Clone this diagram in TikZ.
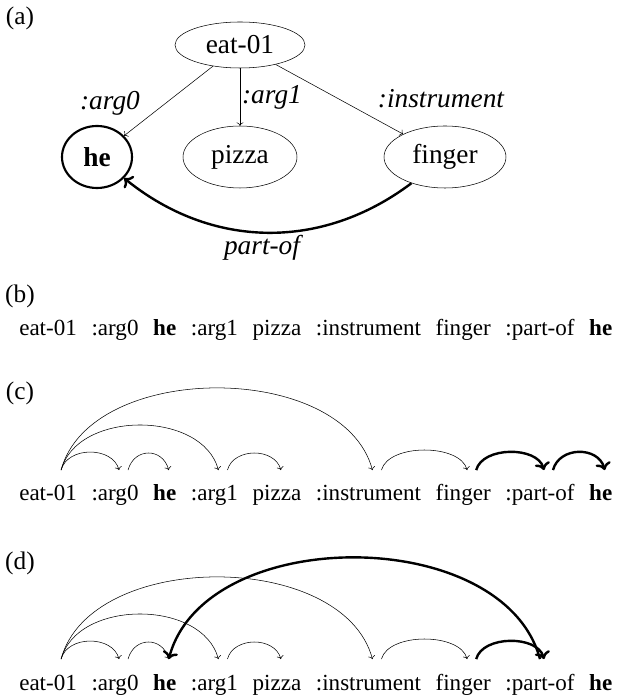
\documentclass[tikz,border=0pt]{standalone}
\usepackage{fontspec}
\setmainfont{Liberation Serif}
\usetikzlibrary{arrows.meta,positioning,shapes.geometric}
\tikzset{
  word/.style={inner sep=0pt, text height=23pt, text depth=5pt, font=\fontsize{17.3}{20}\selectfont},
  concept/.style={draw, ellipse, inner sep=0pt, minimum height=46.5pt, font=\fontsize{20.5}{24}\selectfont},
  rel/.style={inner sep=0pt, font=\fontsize{20.5}{24}\selectfont\itshape},
  panel/.style={inner sep=0pt, font=\fontsize{19}{22}\selectfont},
  dep/.style={->, out=75, in=105},
  depback/.style={->, out=105, in=75},
  heavy/.style={line width=1.8pt}
}
\begin{document}
\begin{tikzpicture}[x=0.75pt, y=0.75pt]
  \useasboundingbox (0,0) rectangle (631,700);
  % (a) graph
  \node[panel] (pa) at (20,682) {(a)};
  \node[concept, minimum width=97.5pt, minimum height=34.5pt] (eat) at (240,655) {eat-01};
  \node[concept, line width=1.6pt, minimum width=52.5pt] (he) at (97,543) {\textbf{he}};
  \node[concept, minimum width=85.5pt] (pizza) at (240,543) {pizza};
  \node[concept, minimum width=91.5pt] (finger) at (445,543) {finger};
  \draw[->] (eat) -- (he);
  \draw[->] (eat) -- (pizza);
  \draw[->] (eat) -- (finger);
  \draw[->, heavy] (finger) to[bend left=38] (he);
  \node[rel] (larg0) at (110,597) {:arg0};
  \node[rel] (larg1) at (272,603) {:arg1};
  \node[rel] (linst) at (441,601) {:instrument};
  \node[rel] (lpart) at (262,452) {part-of};
  % (b) linearised
  \node[panel] (pb) at (20,404) {(b)};
  \node[word, anchor=base west] (b1) at (19,364) {eat-01};
  \node[word, base right=10.6pt of b1] (b2) {:arg0};
  \node[word, base right=10.6pt of b2] (b3) {\textbf{he}};
  \node[word, base right=10.6pt of b3] (b4) {:arg1};
  \node[word, base right=10.6pt of b4] (b5) {pizza};
  \node[word, base right=10.6pt of b5] (b6) {:instrument};
  \node[word, base right=10.6pt of b6] (b7) {finger};
  \node[word, base right=10.6pt of b7] (b8) {:part-of};
  \node[word, base right=10.6pt of b8] (b9) {\textbf{he}};
  % (c) arcs
  \node[panel] (pc) at (20,307) {(c)};
  \node[word, anchor=base west] (c1) at (19,199) {eat-01};
  \node[word, base right=10.6pt of c1] (c2) {:arg0};
  \node[word, base right=10.6pt of c2] (c3) {\textbf{he}};
  \node[word, base right=10.6pt of c3] (c4) {:arg1};
  \node[word, base right=10.6pt of c4] (c5) {pizza};
  \node[word, base right=10.6pt of c5] (c6) {:instrument};
  \node[word, base right=10.6pt of c6] (c7) {finger};
  \node[word, base right=10.6pt of c7] (c8) {:part-of};
  \node[word, base right=10.6pt of c8] (c9) {\textbf{he}};
  \draw[dep] ([xshift=9.75pt]c1.north) to[distance=18.6pt] ([xshift=3pt]c2.north);
  \draw[dep] ([xshift=9.75pt]c2.north) to[distance=17.6pt] ([xshift=3pt]c3.north);
  \draw[dep] ([xshift=9.75pt]c1.north) to[distance=46.6pt] ([xshift=3pt]c4.north);
  \draw[dep] ([xshift=9.75pt]c4.north) to[distance=17.6pt] ([xshift=3pt]c5.north);
  \draw[dep] ([xshift=9.75pt]c1.north) to[distance=85pt] ([xshift=3pt]c6.north);
  \draw[dep] ([xshift=9.75pt]c6.north) to[distance=20.7pt] ([xshift=3pt]c7.north);
  \draw[dep, heavy] ([xshift=9.75pt]c7.north) to[distance=18.6pt] ([xshift=3pt]c8.north);
  \draw[dep, heavy] ([xshift=9.75pt]c8.north) to[distance=18.6pt] ([xshift=3pt]c9.north);
  % (d) arcs with re-entrancy
  \node[panel] (pd) at (20,137) {(d)};
  \node[word, anchor=base west] (d1) at (19,10) {eat-01};
  \node[word, base right=10.6pt of d1] (d2) {:arg0};
  \node[word, base right=10.6pt of d2] (d3) {\textbf{he}};
  \node[word, base right=10.6pt of d3] (d4) {:arg1};
  \node[word, base right=10.6pt of d4] (d5) {pizza};
  \node[word, base right=10.6pt of d5] (d6) {:instrument};
  \node[word, base right=10.6pt of d6] (d7) {finger};
  \node[word, base right=10.6pt of d7] (d8) {:part-of};
  \node[word, base right=10.6pt of d8] (d9) {\textbf{he}};
  \draw[dep] ([xshift=9.75pt]d1.north) to[distance=18.6pt] ([xshift=3pt]d2.north);
  \draw[dep] ([xshift=9.75pt]d2.north) to[distance=17.6pt] ([xshift=3pt]d3.north);
  \draw[dep] ([xshift=9.75pt]d1.north) to[distance=46.6pt] ([xshift=3pt]d4.north);
  \draw[dep] ([xshift=9.75pt]d4.north) to[distance=17.6pt] ([xshift=3pt]d5.north);
  \draw[dep] ([xshift=9.75pt]d1.north) to[distance=85pt] ([xshift=3pt]d6.north);
  \draw[dep] ([xshift=9.75pt]d6.north) to[distance=20.7pt] ([xshift=3pt]d7.north);
  \draw[dep, heavy] ([xshift=9.75pt]d7.north) to[distance=18.6pt] ([xshift=3pt]d8.north);
  \draw[depback, heavy] (d8.north) to[distance=105pt] ([xshift=3pt]d3.north);
\end{tikzpicture}
\end{document}
